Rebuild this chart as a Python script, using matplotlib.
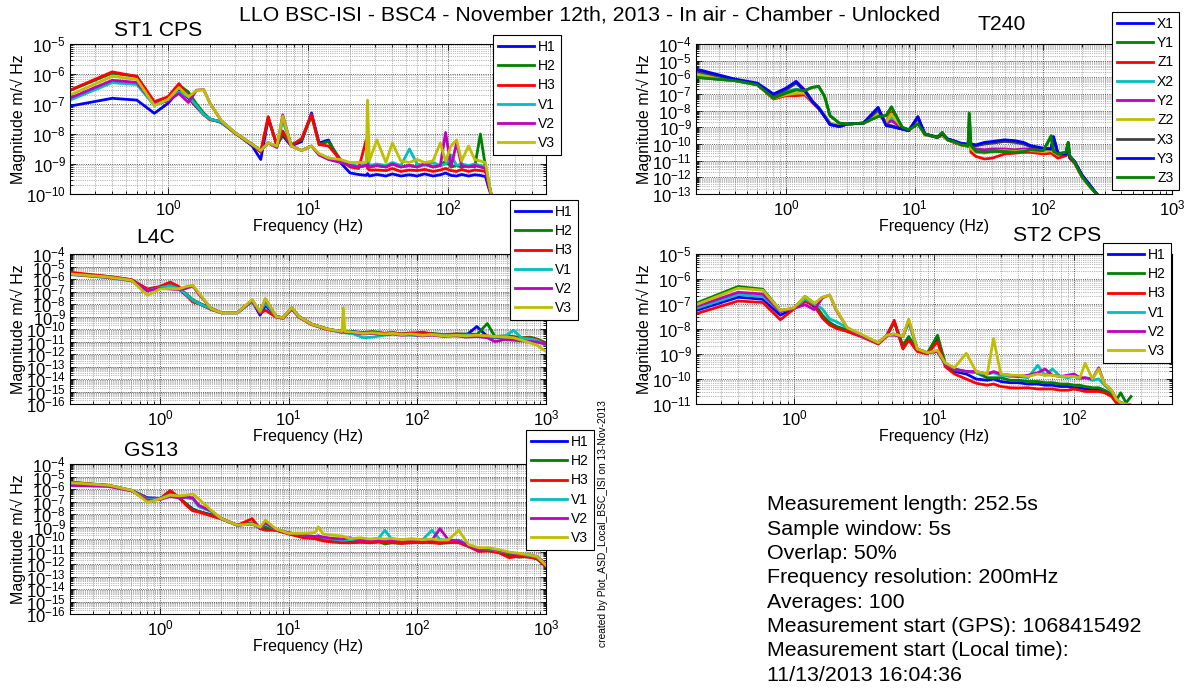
import numpy as np
import matplotlib
matplotlib.use("Agg")
import matplotlib.pyplot as plt
from matplotlib.ticker import LogLocator, NullFormatter

plt.rcParams['font.family'] = ['Liberation Sans', 'DejaVu Sans']
plt.rcParams['mathtext.default'] = 'regular'
plt.rcParams['axes.unicode_minus'] = False

# ---- spectra, stored as log10 of the ASD magnitude ----

cps_labels = ['H1', 'H2', 'H3', 'V1', 'V2', 'V3']
t240_labels = ['X1', 'Y1', 'Z1', 'X2', 'Y2', 'Z2', 'X3', 'Y3', 'Z3']

st1_freq = [0.2, 0.4, 0.6, 0.8, 1.0, 1.2, 1.4, 1.6, 1.8, 2.0,
            2.4, 3.0, 4.0, 4.6, 5.2, 6.0, 6.6, 7.6, 9.0, 10.6,
            12, 14, 17, 20, 23, 26, 26.6, 27.4, 31, 36,
            40, 46, 53, 60, 68, 78, 88, 96, 105, 115,
            125, 140, 155, 170, 185, 195, 205]
st1_h1 = [-7.07, -6.81, -6.87, -7.31, -6.98, -6.55, -6.80, -7.10, -7.35, -7.50,
          -7.62, -7.95, -8.40, -8.85, -7.50, -8.35, -8.05, -8.40, -8.25, -7.30,
          -8.30, -8.20, -8.95, -9.30, -9.35, -9.38, -9.32, -9.40, -9.35, -9.40,
          -9.33, -9.40, -9.36, -9.40, -9.33, -9.40, -9.36, -9.30, -9.38, -9.40,
          -9.35, -9.40, -9.36, -9.38, -9.42, -9.80, -10.10]
st1_h2 = [-6.55, -5.97, -6.08, -7.00, -6.80, -6.37, -6.60, -7.00, -7.30, -7.50,
          -7.60, -7.97, -8.35, -8.60, -7.45, -8.40, -8.00, -8.35, -8.20, -7.40,
          -8.35, -8.25, -8.85, -9.05, -9.10, -9.05, -8.80, -9.10, -9.05, -9.10,
          -9.00, -9.10, -9.05, -9.10, -9.00, -9.10, -9.05, -8.90, -9.10, -9.05,
          -9.10, -9.05, -9.10, -8.00, -9.10, -9.60, -10.10]
st1_h3 = [-6.54, -5.93, -6.08, -6.92, -6.76, -6.32, -6.76, -7.09, -7.36, -7.53,
          -7.58, -7.97, -8.35, -8.60, -7.42, -8.40, -7.90, -8.40, -8.15, -7.35,
          -8.35, -8.40, -8.85, -9.10, -9.15, -8.20, -9.15, -9.20, -9.20, -9.22,
          -9.15, -9.25, -9.20, -9.22, -9.18, -9.25, -9.20, -9.15, -9.22, -9.25,
          -9.18, -9.25, -9.20, -9.22, -9.25, -9.70, -10.10]
st1_v1 = [-6.87, -6.29, -6.35, -7.05, -6.85, -6.60, -6.75, -7.05, -7.35, -7.50,
          -7.60, -7.95, -8.35, -8.55, -8.30, -8.40, -7.55, -8.40, -8.55, -8.40,
          -8.70, -8.80, -8.90, -9.00, -9.10, -9.00, -8.70, -9.05, -9.00, -9.05,
          -8.95, -9.05, -8.50, -9.00, -9.05, -8.95, -9.05, -9.00, -8.70, -9.05,
          -9.00, -9.05, -9.00, -9.05, -9.10, -9.60, -10.10]
st1_v2 = [-6.80, -6.21, -6.28, -7.00, -6.90, -6.65, -6.95, -6.54, -6.52, -6.98,
          -7.55, -7.95, -8.35, -8.55, -8.30, -8.45, -7.36, -8.40, -8.55, -8.40,
          -8.70, -8.85, -8.95, -9.05, -9.10, -9.05, -9.00, -9.10, -9.05, -9.10,
          -9.00, -9.10, -9.05, -9.10, -9.00, -9.10, -9.05, -7.95, -9.10, -8.30,
          -9.05, -9.10, -9.05, -9.10, -9.15, -9.70, -10.10]
st1_v3 = [-6.70, -6.08, -6.18, -7.05, -6.85, -6.45, -6.76, -6.55, -6.52, -6.98,
          -7.55, -7.95, -8.35, -8.55, -8.30, -8.40, -7.40, -8.40, -8.55, -8.40,
          -8.65, -8.80, -8.85, -8.95, -8.95, -8.95, -6.87, -8.90, -8.20, -8.95,
          -8.30, -8.90, -8.95, -8.85, -8.95, -8.90, -8.30, -8.90, -8.40, -8.20,
          -8.90, -8.40, -8.85, -8.90, -8.95, -9.60, -10.10]

t240_freq = [0.2, 0.4, 0.6, 0.8, 1.0, 1.2, 1.4, 1.6, 1.8, 2.0,
             2.2, 2.6, 3.0, 4.0, 5.2, 6.0, 6.6, 8.0, 9.0, 10.6,
             12, 15, 16.4, 18, 20, 23, 26, 26.6, 27.4, 30,
             35, 40, 50, 60, 70, 80, 100, 115, 120, 130,
             150, 156, 160, 175, 200, 230, 260]
t240_x1 = [-5.55, -6.15, -6.40, -7.05, -6.70, -6.30, -6.80, -7.45, -7.85, -8.35,
           -8.80, -8.95, -8.80, -8.75, -7.85, -8.85, -8.95, -9.10, -9.20, -8.40,
           -9.40, -9.60, -9.40, -9.70, -9.80, -10.00, -10.05, -10.00, -10.05, -10.10,
           -9.95, -9.90, -9.80, -9.85, -9.95, -10.15, -10.30, -10.30, -9.60, -10.60,
           -10.65, -10.00, -10.80, -11.10, -11.90, -12.50, -13.00]
t240_y1 = [-6.00, -6.20, -6.45, -7.25, -6.95, -6.75, -6.80, -6.60, -6.55, -7.15,
           -8.30, -8.75, -8.80, -8.75, -8.35, -8.30, -7.76, -9.00, -9.15, -8.80,
           -9.40, -9.60, -9.35, -9.75, -9.85, -10.05, -10.10, -8.15, -10.10, -10.45,
           -10.50, -10.40, -10.45, -10.50, -10.40, -10.35, -10.40, -9.50, -10.45, -10.60,
           -10.50, -9.90, -10.70, -11.10, -11.95, -12.55, -13.00]
t240_z1 = [-5.85, -6.15, -6.45, -7.30, -7.10, -7.10, -7.05, -7.50, -7.90, -8.30,
           -8.80, -8.90, -8.80, -8.75, -8.20, -8.70, -8.10, -9.05, -9.20, -8.70,
           -9.45, -9.60, -9.50, -9.75, -9.90, -10.05, -10.15, -9.40, -10.50, -10.75,
           -10.90, -10.85, -10.60, -10.55, -10.50, -10.50, -10.60, -10.55, -10.65, -10.85,
           -10.70, -10.40, -10.85, -11.15, -12.00, -12.55, -13.00]
t240_x2 = [-5.70, -6.15, -6.40, -7.10, -6.85, -6.70, -6.85, -7.40, -7.80, -8.30,
           -8.75, -8.90, -8.80, -8.75, -8.00, -8.75, -8.40, -9.05, -9.20, -8.60,
           -9.40, -9.60, -9.45, -9.75, -9.85, -10.00, -10.10, -9.60, -10.20, -10.40,
           -10.45, -10.35, -10.35, -10.40, -10.35, -10.30, -10.35, -10.30, -10.45, -10.60,
           -10.55, -10.30, -10.70, -11.05, -11.90, -12.50, -13.00]
t240_y2 = [-5.60, -6.15, -6.40, -7.10, -6.70, -6.25, -6.75, -7.40, -7.85, -8.35,
           -8.80, -8.95, -8.80, -8.75, -7.90, -8.80, -8.60, -9.05, -9.20, -8.50,
           -9.40, -9.60, -9.45, -9.75, -9.85, -10.00, -10.05, -9.80, -10.15, -10.30,
           -10.35, -10.30, -10.30, -10.35, -10.30, -10.30, -10.35, -10.30, -10.40, -10.55,
           -10.55, -10.30, -10.70, -11.05, -11.90, -12.50, -13.00]
t240_z2 = [-5.85, -6.20, -6.45, -7.25, -7.05, -6.95, -6.95, -7.45, -7.85, -8.30,
           -8.75, -8.90, -8.80, -8.75, -8.20, -8.70, -8.20, -9.05, -9.20, -8.70,
           -9.45, -9.60, -9.45, -9.75, -9.85, -10.05, -10.10, -9.50, -10.30, -10.50,
           -10.55, -10.45, -10.40, -10.45, -10.40, -10.40, -10.45, -10.40, -10.50, -10.65,
           -10.55, -10.30, -10.75, -11.10, -11.95, -12.55, -13.00]
t240_x3 = [-5.60, -6.15, -6.40, -7.10, -6.75, -6.35, -6.80, -7.45, -7.85, -8.35,
           -8.80, -8.95, -8.80, -8.75, -7.95, -8.85, -8.90, -9.10, -9.20, -8.45,
           -9.40, -9.60, -9.40, -9.70, -9.80, -10.00, -10.05, -9.95, -10.05, -10.10,
           -10.00, -9.95, -9.85, -9.90, -10.00, -10.15, -10.30, -10.30, -9.70, -10.60,
           -10.65, -10.10, -10.80, -11.10, -11.90, -12.50, -13.00]
t240_y3 = [-5.50, -6.10, -6.35, -7.00, -6.65, -6.25, -6.80, -7.45, -7.85, -8.35,
           -8.85, -8.95, -8.80, -8.75, -7.80, -8.90, -8.95, -9.10, -9.20, -8.35,
           -9.40, -9.60, -9.35, -9.70, -9.80, -9.95, -10.00, -9.95, -10.00, -10.05,
           -9.90, -9.85, -9.75, -9.80, -9.90, -10.10, -10.25, -10.30, -9.55, -10.55,
           -10.60, -10.00, -10.75, -11.05, -11.85, -12.45, -13.00]
t240_z3 = [-6.00, -6.20, -6.45, -7.25, -6.95, -6.75, -6.80, -6.60, -6.55, -7.15,
           -8.30, -8.75, -8.80, -8.75, -8.35, -8.30, -7.80, -9.00, -9.15, -8.80,
           -9.40, -9.60, -9.30, -9.75, -9.85, -10.05, -10.10, -8.20, -10.10, -10.45,
           -10.50, -10.45, -10.45, -10.50, -10.45, -10.35, -10.40, -9.55, -10.45, -10.60,
           -10.50, -9.90, -10.70, -11.10, -11.95, -12.55, -13.00]

st2_freq = [0.2, 0.4, 0.6, 0.8, 1.0, 1.2, 1.4, 1.6, 1.8, 2.0,
            2.4, 3.0, 4.0, 4.6, 5.2, 6.0, 6.6, 7.6, 9.0, 10.6,
            12, 14, 17, 20, 24, 26.6, 30, 35, 40, 47,
            55, 62, 70, 80, 90, 100, 110, 120, 135, 150,
            165, 185, 200, 215, 235, 255]
st2_h1 = [-7.26, -6.73, -6.81, -7.45, -7.17, -6.85, -7.10, -7.50, -7.75, -7.90,
          -8.05, -8.25, -8.58, -8.25, -7.70, -8.75, -8.40, -8.85, -8.97, -8.40,
          -9.40, -9.70, -9.80, -10.00, -10.05, -10.00, -10.10, -10.15, -10.15, -10.20,
          -10.20, -10.25, -10.25, -10.30, -10.30, -10.35, -10.35, -10.40, -10.40, -10.45,
          -10.50, -10.65, -10.85, -10.95, -11.00, -11.05]
st2_h2 = [-6.97, -6.30, -6.41, -7.26, -7.17, -6.70, -6.97, -7.45, -7.75, -7.90,
          -8.05, -8.25, -8.58, -8.25, -7.75, -8.65, -8.30, -8.85, -8.95, -8.25,
          -9.35, -9.65, -9.70, -9.75, -9.95, -9.95, -9.95, -10.05, -10.05, -10.10,
          -10.10, -10.15, -10.15, -10.20, -10.20, -10.25, -10.25, -10.30, -10.35, -10.35,
          -10.45, -10.60, -10.85, -10.55, -10.95, -10.70]
st2_h3 = [-7.39, -6.88, -6.94, -7.63, -7.20, -6.90, -7.05, -7.57, -7.84, -7.97,
          -8.10, -8.30, -8.60, -8.30, -7.65, -8.80, -8.45, -8.90, -9.00, -8.50,
          -9.50, -9.80, -10.00, -10.17, -10.25, -10.20, -10.30, -10.35, -10.36, -10.35,
          -10.40, -10.40, -10.40, -10.45, -10.45, -10.40, -10.45, -10.50, -10.50, -10.50,
          -10.55, -10.70, -10.95, -11.10, -11.10, -11.10]
st2_v1 = [-7.18, -6.62, -6.70, -7.30, -7.17, -6.80, -7.00, -7.20, -7.60, -7.70,
          -7.95, -8.25, -8.55, -8.25, -8.20, -8.30, -7.75, -8.80, -8.95, -8.90,
          -9.40, -9.60, -9.70, -9.75, -9.80, -9.75, -9.85, -9.90, -9.90, -9.95,
          -9.45, -9.85, -9.60, -9.90, -9.95, -9.90, -10.00, -9.95, -10.05, -10.00,
          -10.25, -10.50, -10.80, -10.95, -11.00, -11.05]
st2_v2 = [-7.10, -6.53, -6.60, -7.30, -7.17, -7.03, -7.23, -6.75, -6.64, -7.23,
          -7.95, -8.25, -8.55, -8.25, -8.25, -8.30, -7.65, -8.80, -8.95, -8.90,
          -9.40, -9.60, -9.70, -9.70, -9.80, -9.70, -9.80, -9.85, -9.90, -9.85,
          -9.75, -9.60, -9.85, -9.90, -9.85, -9.80, -9.95, -9.95, -10.00, -9.55,
          -10.20, -10.45, -10.80, -10.95, -11.00, -11.05]
st2_v3 = [-7.03, -6.37, -6.45, -7.26, -7.15, -6.70, -6.97, -6.72, -6.64, -7.20,
          -7.95, -8.20, -8.55, -8.25, -8.20, -8.30, -7.60, -8.80, -8.95, -8.85,
          -9.35, -9.55, -8.97, -9.70, -9.80, -8.38, -9.80, -9.85, -9.85, -9.90,
          -9.80, -9.85, -9.85, -9.90, -9.90, -9.90, -9.95, -9.37, -10.00, -9.60,
          -10.20, -10.45, -10.80, -10.95, -11.00, -11.05]

l4c_freq = [0.2, 0.4, 0.6, 0.8, 1.0, 1.2, 1.4, 1.6, 1.8, 2.0,
            2.5, 3.0, 4.0, 5.2, 6.0, 6.6, 8.0, 9.0, 10.6, 12,
            15, 20, 26, 26.6, 27.4, 32, 38, 45, 55, 65,
            75, 90, 110, 130, 160, 200, 240, 290, 350, 400,
            480, 560, 650, 750, 850, 1000]
l4c_h1 = [-5.60, -5.85, -6.10, -6.85, -6.65, -6.60, -6.80, -7.30, -7.70, -7.95,
          -8.40, -8.70, -8.70, -7.75, -8.90, -8.10, -9.00, -9.10, -8.35, -9.00,
          -9.60, -10.00, -10.25, -10.20, -10.25, -10.20, -10.35, -10.30, -10.40, -10.35,
          -10.45, -10.40, -10.50, -10.40, -10.55, -10.45, -10.50, -9.80, -10.60, -10.70,
          -10.65, -10.70, -10.75, -10.80, -10.90, -11.20]
l4c_h2 = [-5.55, -5.80, -6.05, -6.90, -6.70, -6.50, -6.70, -7.20, -7.65, -7.90,
          -8.35, -8.70, -8.70, -7.70, -8.60, -7.80, -9.00, -9.10, -8.30, -9.00,
          -9.60, -10.00, -10.20, -10.10, -10.20, -10.25, -10.30, -10.20, -10.35, -10.30,
          -10.40, -10.30, -10.45, -10.35, -10.45, -10.40, -10.40, -10.45, -9.56, -10.60,
          -10.55, -10.60, -10.70, -10.65, -10.80, -11.10]
l4c_h3 = [-5.46, -5.80, -6.05, -6.80, -6.60, -6.25, -6.60, -7.30, -7.85, -7.97,
          -8.45, -8.70, -8.70, -7.70, -8.75, -8.50, -9.05, -9.15, -8.40, -9.05,
          -9.65, -10.05, -10.20, -10.15, -10.25, -10.30, -10.30, -10.25, -10.35, -10.30,
          -10.40, -10.35, -10.25, -10.40, -10.50, -10.40, -10.45, -10.50, -10.55, -10.65,
          -10.60, -10.70, -10.75, -10.70, -10.85, -11.20]
l4c_v1 = [-5.65, -5.90, -6.15, -6.95, -6.70, -6.55, -6.75, -7.25, -7.70, -7.95,
          -8.40, -8.70, -8.70, -7.80, -8.65, -7.90, -9.00, -9.10, -8.40, -9.00,
          -9.60, -10.00, -10.30, -10.25, -10.30, -10.40, -10.70, -10.65, -10.50, -10.40,
          -10.45, -10.50, -10.55, -10.45, -10.50, -10.55, -10.50, -10.55, -10.60, -10.65,
          -10.60, -10.10, -10.75, -10.80, -10.90, -11.30]
l4c_v2 = [-5.62, -5.88, -6.12, -6.95, -6.75, -6.80, -6.85, -6.75, -6.55, -7.20,
          -8.35, -8.70, -8.70, -7.75, -8.65, -7.60, -9.00, -9.10, -8.40, -9.00,
          -9.60, -10.00, -10.25, -10.20, -10.25, -10.30, -10.40, -10.35, -10.45, -10.40,
          -10.50, -10.45, -10.55, -10.50, -10.60, -10.55, -10.65, -10.60, -10.70, -11.00,
          -10.85, -10.90, -10.95, -11.00, -11.05, -11.20]
l4c_v3 = [-5.60, -5.85, -6.10, -7.30, -6.80, -6.75, -6.80, -6.60, -6.50, -7.10,
          -8.37, -8.70, -8.70, -7.65, -8.60, -7.56, -9.00, -9.10, -8.30, -9.00,
          -9.60, -10.00, -10.20, -8.30, -10.20, -10.25, -10.35, -10.30, -10.40, -10.35,
          -10.45, -10.40, -10.50, -10.45, -10.55, -10.50, -10.55, -10.50, -10.55, -10.60,
          -10.65, -10.70, -10.90, -11.10, -11.30, -11.80]

gs13_freq = [0.2, 0.4, 0.6, 0.8, 1.0, 1.2, 1.4, 1.6, 1.8, 2.0,
             2.5, 3.0, 4.0, 5.2, 6.0, 6.6, 8.0, 10, 13, 16,
             17, 18.5, 22, 26, 30, 36, 43, 50, 56, 63,
             75, 90, 110, 130, 150, 175, 210, 250, 300, 360,
             430, 520, 620, 720, 850, 1000]
gs13_h1 = [-5.50, -5.72, -6.12, -6.70, -6.75, -6.40, -6.70, -7.20, -7.60, -7.80,
           -8.05, -8.37, -8.90, -8.75, -9.15, -9.10, -9.30, -9.55, -9.75, -9.90,
           -9.95, -10.00, -10.15, -10.25, -10.25, -10.10, -10.20, -10.15, -10.25, -10.10,
           -10.20, -10.25, -10.15, -10.20, -10.25, -10.15, -10.25, -10.55, -10.90, -10.85,
           -11.00, -11.20, -11.30, -11.35, -11.50, -12.10]
gs13_h2 = [-5.46, -5.70, -6.10, -6.75, -6.78, -6.30, -6.65, -7.20, -7.65, -7.80,
           -8.10, -8.37, -8.90, -8.70, -9.10, -9.05, -9.30, -9.55, -9.80, -9.95,
           -9.95, -10.05, -10.15, -10.25, -10.30, -10.25, -10.30, -10.20, -10.40, -10.30,
           -10.35, -10.25, -10.30, -10.20, -10.35, -10.30, -10.25, -10.60, -10.85, -10.95,
           -11.05, -11.30, -11.45, -11.40, -11.60, -12.20]
gs13_h3 = [-5.46, -5.72, -6.12, -6.78, -6.78, -6.12, -6.65, -7.30, -7.75, -7.84,
           -8.15, -8.40, -8.90, -8.37, -9.17, -9.30, -9.30, -9.60, -9.90, -9.97,
           -10.05, -10.15, -10.25, -10.30, -10.30, -10.25, -10.30, -10.25, -10.30, -10.25,
           -10.35, -10.30, -10.25, -10.30, -10.35, -10.20, -10.30, -10.60, -11.00, -10.95,
           -11.10, -11.50, -11.35, -11.45, -11.55, -12.20]
gs13_v1 = [-5.55, -5.72, -6.12, -6.85, -6.78, -6.45, -6.65, -6.70, -6.80, -7.40,
           -7.80, -8.37, -8.90, -8.80, -9.10, -8.80, -9.25, -9.50, -9.70, -9.80,
           -9.75, -9.90, -10.00, -10.10, -10.05, -10.00, -10.05, -9.95, -9.30, -10.00,
           -10.05, -10.00, -10.05, -9.30, -10.05, -10.10, -10.10, -10.50, -10.80, -10.80,
           -10.95, -11.10, -11.20, -11.30, -11.45, -12.00]
gs13_v2 = [-5.72, -5.80, -6.15, -6.90, -6.85, -6.60, -6.70, -6.65, -6.70, -7.30,
           -7.75, -8.37, -8.90, -8.80, -9.10, -8.70, -9.25, -9.50, -9.70, -9.80,
           -9.75, -9.85, -9.95, -10.00, -9.90, -10.10, -10.15, -10.05, -10.10, -10.10,
           -10.15, -10.10, -10.05, -10.10, -9.17, -10.10, -10.15, -10.55, -10.85, -10.75,
           -10.90, -11.10, -11.20, -11.25, -11.40, -12.00]
gs13_v3 = [-5.50, -5.70, -6.10, -7.05, -6.80, -6.50, -6.55, -6.50, -6.40, -6.78,
           -7.70, -8.37, -8.90, -8.80, -9.05, -8.50, -9.20, -9.55, -9.55, -9.50,
           -9.03, -9.60, -9.70, -9.75, -9.97, -9.90, -10.00, -9.95, -10.00, -9.95,
           -10.05, -10.00, -10.05, -10.00, -10.10, -10.05, -9.30, -10.45, -10.70, -10.70,
           -10.85, -11.05, -11.15, -11.25, -11.40, -12.10]

info_lines = ['Measurement length: 252.5s',
              'Sample window: 5s',
              'Overlap: 50%',
              'Frequency resolution: 200mHz',
              'Averages: 100',
              'Measurement start (GPS): 1068415492',
              'Measurement start (Local time):',
              '11/13/2013 16:04:36']

# classic MATLAB line colour order
line_colors = [(0, 0, 1), (0, 0.5, 0), (1, 0, 0), (0, 0.75, 0.75),
               (0.75, 0, 0.75), (0.75, 0.75, 0), (0.25, 0.25, 0.25)]

W, H = 1188, 688
fig = plt.figure(figsize=(W / 100, H / 100), dpi=100)
fig.patch.set_facecolor('white')


def fx(px):
    return px / W


def fy(py):
    return 1 - py / H


def panel(left, top, freq, series, labels, xmax, ylo, yhi, title, title_xy, leg_xy):
    ax = fig.add_axes([fx(left), fy(top + 150), 476 / W, 150 / H])
    for i, (vals, lab) in enumerate(zip(series, labels)):
        ax.plot(freq, 10.0 ** np.asarray(vals), color=line_colors[i % 7],
                lw=2.0, label=lab)
    ax.set_xscale('log')
    ax.set_yscale('log')
    ax.set_xlim(0.2, xmax)
    ax.set_ylim(10.0 ** ylo, 10.0 ** yhi)

    xexp = [e for e in range(0, 4) if 10 ** e <= xmax]
    ax.set_xticks([10.0 ** e for e in xexp])
    ax.set_xticklabels(['$10^{%d}$' % e for e in xexp])
    yexp = list(range(ylo, yhi + 1))
    ax.set_yticks([10.0 ** e for e in yexp])
    ax.set_yticklabels(['$10^{%d}$' % e for e in yexp])
    sub = np.arange(2, 10) * 1.0
    ax.xaxis.set_minor_locator(LogLocator(base=10, subs=sub, numticks=100))
    ax.yaxis.set_minor_locator(LogLocator(base=10, subs=sub, numticks=100))
    ax.xaxis.set_minor_formatter(NullFormatter())
    ax.yaxis.set_minor_formatter(NullFormatter())

    ax.set_axisbelow(True)
    ax.grid(True, which='major', ls=':', color='0.15', lw=0.6)
    ax.grid(True, which='minor', ls=':', color='0.45', lw=0.5)
    ax.tick_params(which='both', direction='in', top=True, right=True,
                   labelsize=12, width=0.6, pad=3)
    ax.tick_params(which='major', length=4)
    ax.tick_params(which='minor', length=2)
    for sp in ax.spines.values():
        sp.set_linewidth(0.8)

    ax.set_xlabel('Frequency (Hz)', fontsize=11.5, labelpad=1)
    ax.set_ylabel('Magnitude m/\u221a Hz', fontsize=11.5)
    ax.yaxis.set_label_coords(-0.092, 0.5)

    fig.text(fx(title_xy[0]), fy(title_xy[1]), title, ha='center', va='center',
             fontsize=15.2)

    leg = ax.legend(loc='upper left', bbox_to_anchor=(fx(leg_xy[0]), fy(leg_xy[1])),
                    bbox_transform=fig.transFigure, fontsize=10, frameon=True,
                    fancybox=False, edgecolor='black', framealpha=1,
                    borderpad=0.35, labelspacing=0.38, handlelength=2.6,
                    handletextpad=0.3, borderaxespad=0)
    leg.get_frame().set_linewidth(0.8)
    return ax


panel(70, 44, st1_freq, [st1_h1, st1_h2, st1_h3, st1_v1, st1_v2, st1_v3],
      cps_labels, 500, -10, -5, 'ST1 CPS', (158, 30), (493, 35))
panel(696, 44, t240_freq, [t240_x1, t240_y1, t240_z1, t240_x2, t240_y2,
                           t240_z2, t240_x3, t240_y3, t240_z3],
      t240_labels, 1000, -13, -4, 'T240', (1002, 25), (1112, 12))
panel(70, 254, l4c_freq, [l4c_h1, l4c_h2, l4c_h3, l4c_v1, l4c_v2, l4c_v3],
      cps_labels, 1000, -16, -4, 'L4C', (156, 238), (510, 200))
panel(696, 254, st2_freq, [st2_h1, st2_h2, st2_h3, st2_v1, st2_v2, st2_v3],
      cps_labels, 500, -11, -5, 'ST2 CPS', (1057, 235), (1103, 243))
panel(70, 464, gs13_freq, [gs13_h1, gs13_h2, gs13_h3, gs13_v1, gs13_v2, gs13_v3],
      cps_labels, 1000, -16, -4, 'GS13', (151, 450), (526, 430))

fig.text(fx(590), fy(15),
         'LLO BSC-ISI - BSC4 - November 12th, 2013 - In air - Chamber - Unlocked',
         ha='center', va='center', fontsize=15.3)

fig.text(fx(603), fy(400), 'created by Plot_ASD_Local_BSC_ISI on 13-Nov-2013',
         rotation=90, ha='center', va='top', fontsize=7.4)

for k, line in enumerate(info_lines):
    fig.text(fx(767), fy(505 + 24.3 * k), line, ha='left', va='center',
             fontsize=15.4)

fig.savefig('out.png', dpi=100)
